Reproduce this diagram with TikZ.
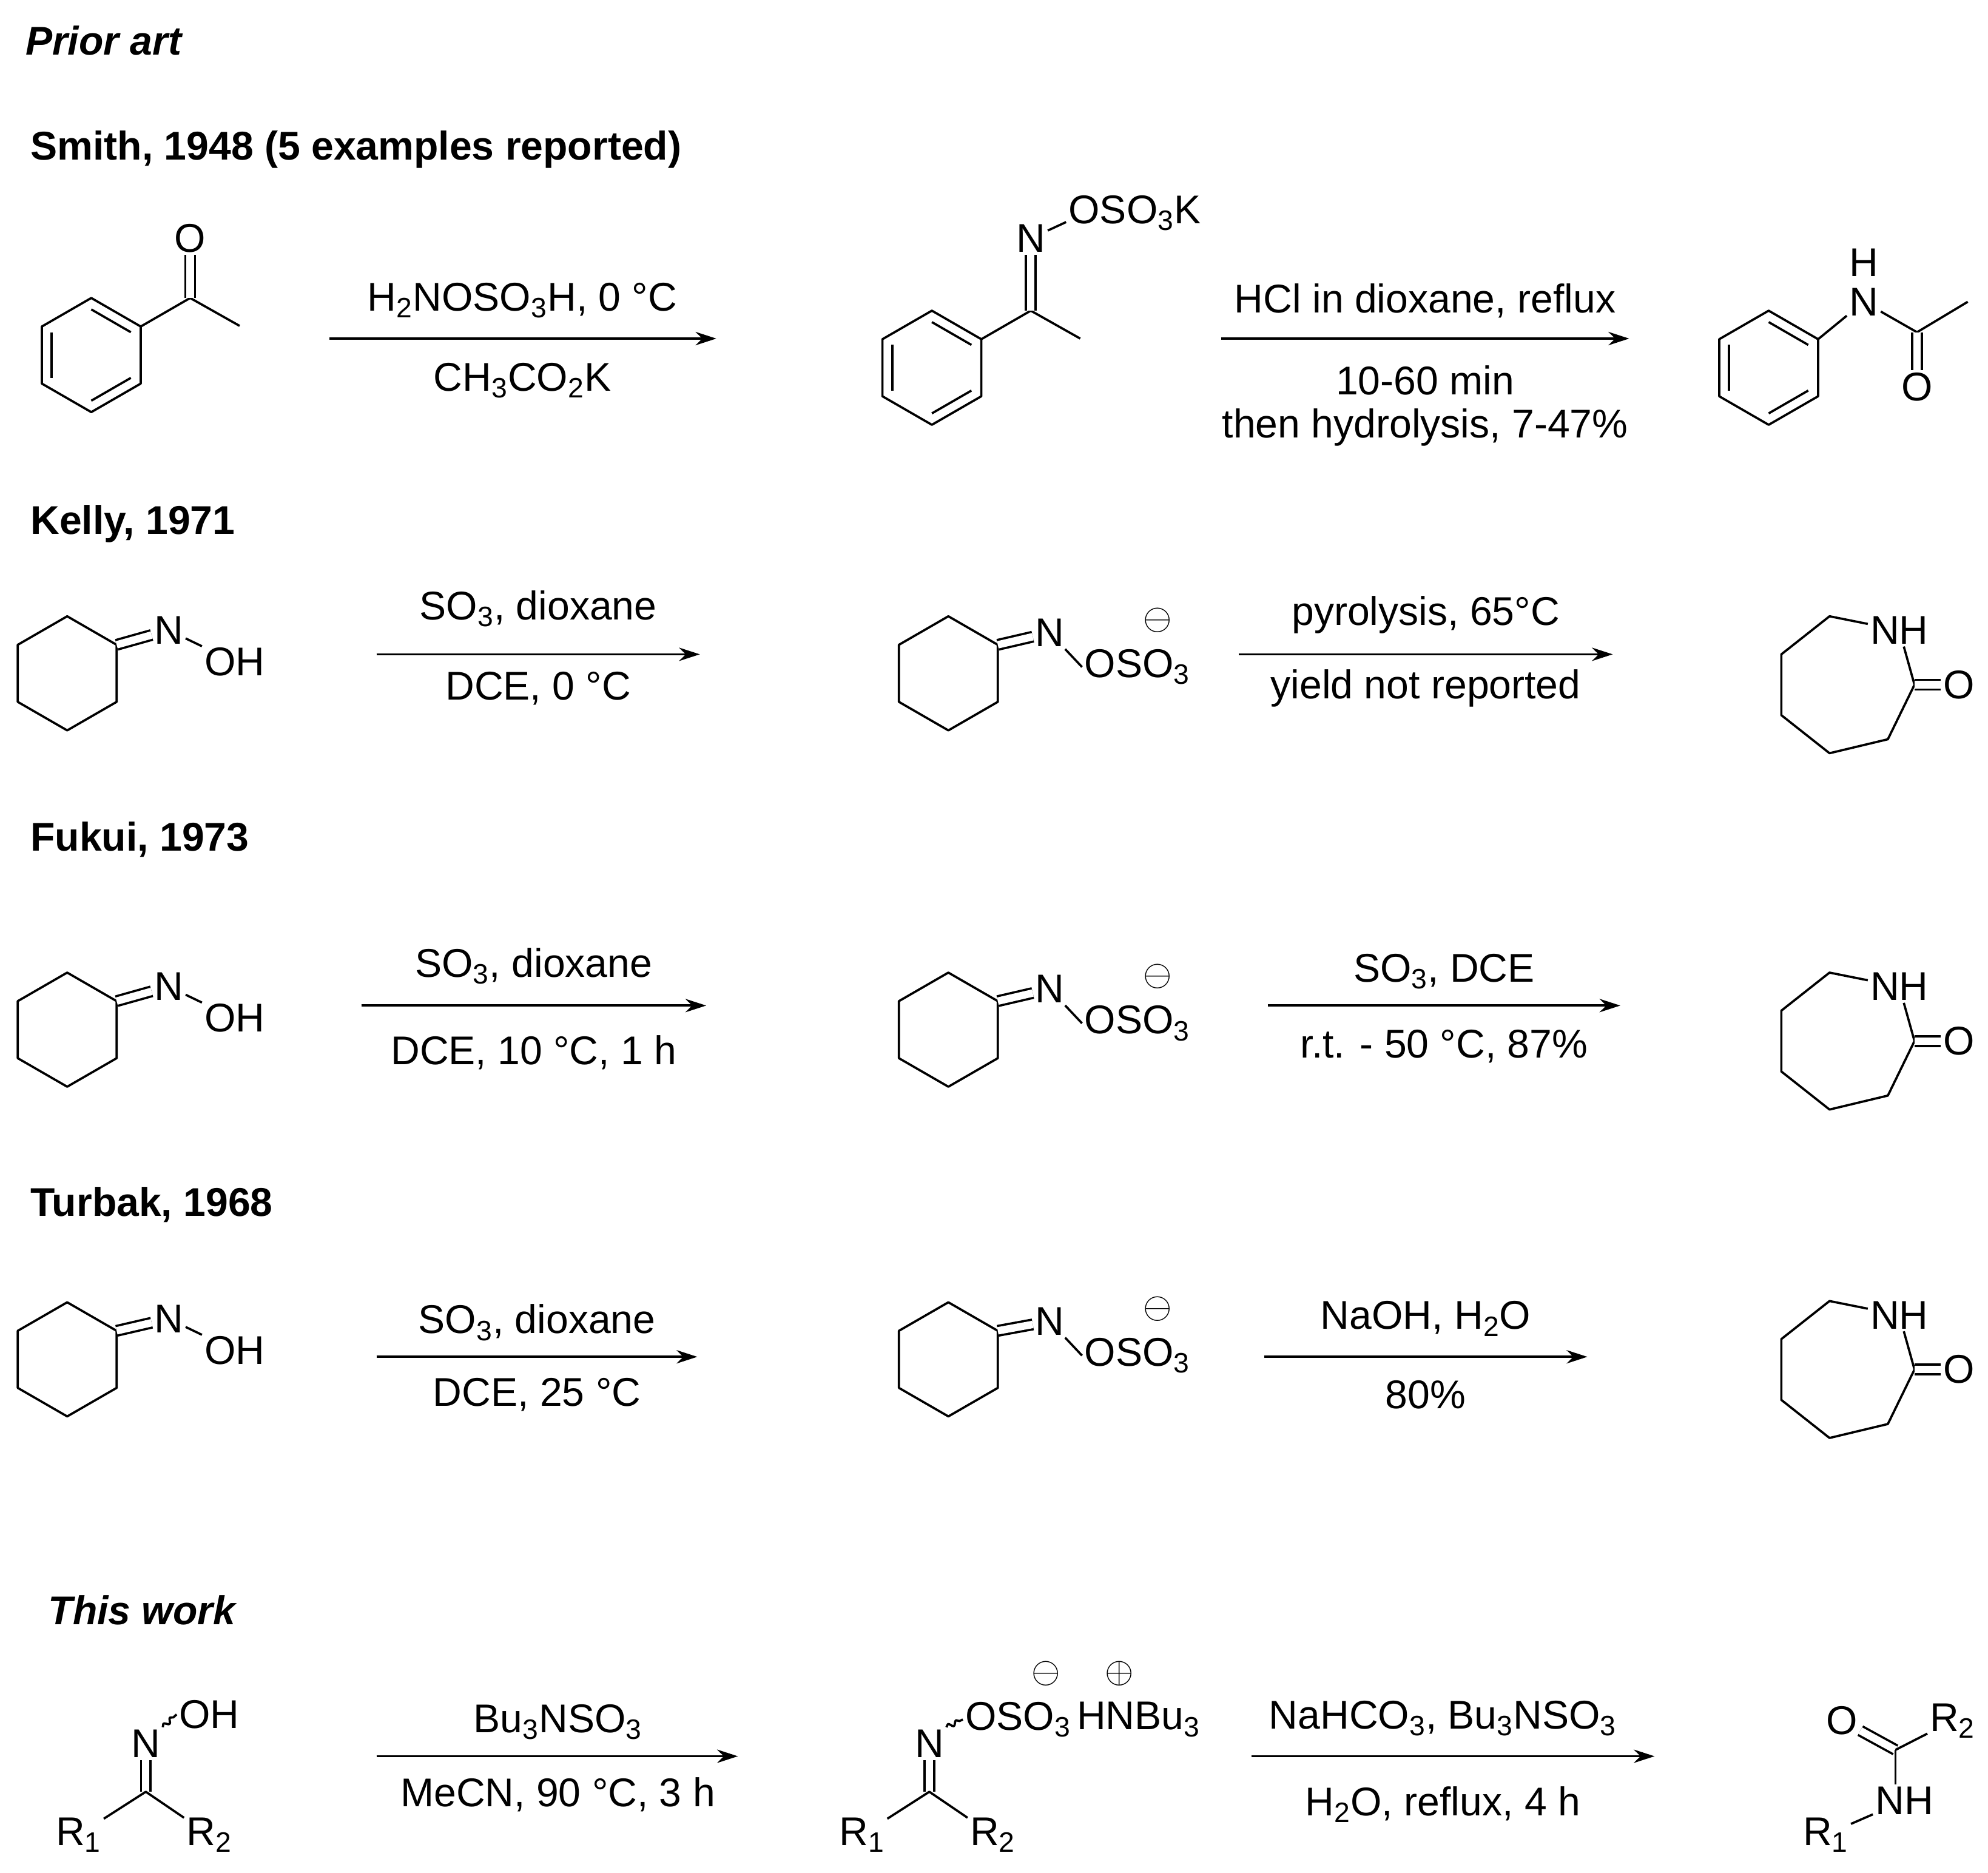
\documentclass[tikz,border=0pt]{standalone}
\usepackage{fontspec}
\setmainfont{Liberation Sans}
\usetikzlibrary{arrows.meta,decorations.pathmorphing,calc}
\newcommand\hexa[3]{%
\coordinate (#1t) at (#2,#3-45);
\coordinate (#1ur) at (#2+39,#3-22.5);
\coordinate (#1lr) at (#2+39,#3+22.5);
\coordinate (#1b) at (#2,#3+45);
\coordinate (#1ll) at (#2-39,#3+22.5);
\coordinate (#1ul) at (#2-39,#3-22.5);
\coordinate (#1c) at (#2,#3);
\draw[bond] (#1t)--(#1ur)--(#1lr)--(#1b)--(#1ll)--(#1ul)--cycle;}
\newcommand\inner[3]{\draw[bond] ($(#1)!0.2!(#3)$)--($(#2)!0.2!(#3)$);}
\newcommand\benz[3]{\hexa{#1}{#2}{#3}\inner{#1t}{#1ur}{#1c}\inner{#1lr}{#1b}{#1c}\inner{#1ll}{#1ul}{#1c}}
\newcommand\hepta[3]{%
\coordinate (#1a) at (#2+55,#3);
\coordinate (#1b) at (#2+34,#3-43);
\coordinate (#1c) at (#2-12,#3-54);
\coordinate (#1d) at (#2-50,#3-24);
\coordinate (#1e) at (#2-50,#3+24);
\coordinate (#1f) at (#2-12,#3+54);
\coordinate (#1g) at (#2+34,#3+43);
\node[atom] (#1N) at (#2+43,#3-43) {NH};
\node[atom] (#1O) at (#2+90,#3) {O};
\draw[bond] (#1N)--(#1c)--(#1d)--(#1e)--(#1f)--(#1g)--(#1a)--(#1N);
\draw[dbond] (#1a)--(#1O);}
\begin{document}
\begin{tikzpicture}[x=0.03cm,y=-0.03cm,
  every node/.style={font=\fontsize{27}{32}\selectfont},
  bond/.style={line width=1.5pt,line join=round},
  dbond/.style={line width=1.5pt,double,double distance=5pt},
  atom/.style={inner sep=1.5pt},
  rxn/.style={line width=1.5pt,-{Stealth[length=14pt,width=9pt]}},
  head/.style={anchor=west,font=\fontsize{27}{32}\selectfont\bfseries}]
\useasboundingbox (0,0) rectangle (1568,1477);
\node[head,font=\fontsize{27}{32}\selectfont\bfseries\itshape] (h0) at (16,32) {Prior art};
\node[head] (h1) at (20,118) {Smith, 1948 (5 examples reported)};
\node[head] (h2) at (20,413) {Kelly, 1971};
\node[head] (h3) at (20,662) {Fukui, 1973};
\node[head] (h4) at (20,950) {Turbak, 1968};
\node[head,font=\fontsize{27}{32}\selectfont\bfseries\itshape] (h5) at (34,1270) {This work};
% row 1
\benz{A}{72}{280}
\coordinate (AC) at (150,235); \coordinate (AM) at (189,257);
\node[atom] (AO) at (150,188) {O};
\draw[bond] (Aur)--(AC)--(AM); \draw[dbond] (AC)--(AO);
\coordinate (r1a) at (260,267); \coordinate (r1b) at (565,267);
\draw[rxn] (r1a)--(r1b);
\node (t1a) at (412,237) {H\textsubscript{2}NOSO\textsubscript{3}H, 0 °C};
\node (t1b) at (412,300) {CH\textsubscript{3}CO\textsubscript{2}K};
\benz{B}{735}{290}
\coordinate (BC) at (813,245); \coordinate (BM) at (852,267);
\node[atom] (BN) at (813,188) {N};
\node[atom] (BO) at (895,168) {OSO\textsubscript{3}K};
\draw[bond] (Bur)--(BC)--(BM); \draw[dbond] (BC)--(BN);
\draw[bond] (BN)--(BO.west|-BN.north);
\coordinate (r2a) at (963,267); \coordinate (r2b) at (1285,267);
\draw[rxn] (r2a)--(r2b);
\node (t2a) at (1124,237) {HCl in dioxane, reflux};
\node (t2b) at (1124,300) {10-60 min};
\node (t2c) at (1124,337) {then hydrolysis, 7-47\%};
\benz{C}{1395}{290}
\node[atom] (CN) at (1470,238) {N};
\node[atom] (CH) at (1470,207) {H};
\coordinate (CC) at (1512,262); \coordinate (CM) at (1552,238);
\node[atom] (CO) at (1512,305) {O};
\draw[bond] (Cur)--(CN)--(CC)--(CM); \draw[dbond] (CC)--(CO);
% Kelly, Fukui, Turbak rows
\foreach \r/\y/\ny/\la/\lb/\xa/\xb/\lc/\ld/\xc/\xd/\ly/\ry/\ya/\yb/\yc/\yd in {
 K/531/497/{SO\textsubscript{3}, dioxane}/{DCE, 0 °C}/297/552/{pyrolysis, 65°C}/{yield not reported}/977/1272/540/516/480/543/485/543,
 F/812/778/{SO\textsubscript{3}, dioxane}/{DCE, 10 °C, 1 h}/285/557/{SO\textsubscript{3}, DCE}/{r.t. - 50 °C, 87\%}/1000/1278/821/793/762/830/766/825,
 T/1072/1040/{SO\textsubscript{3}, dioxane}/{DCE, 25 °C}/297/550/{NaOH, H\textsubscript{2}O}/{80\%}/997/1252/1080/1070/1043/1100/1040/1100}{
 \hexa{\r x}{53}{\y}
 \node[atom] (\r N1) at (133,\ny) {N};
 \node[atom] (\r OH) at (185,\ny+25) {OH};
 \draw[dbond] (\r xur)--(\r N1); \draw[bond] (\r N1)--(\r OH);
 \coordinate (\r a1) at (\xa,\ry); \coordinate (\r b1) at (\xb,\ry);
 \draw[rxn] (\r a1)--(\r b1);
 \node (\r t1) at ({(\xa+\xb)/2},\ya) {\la};
 \node (\r t2) at ({(\xa+\xb)/2},\yb) {\lb};
 \hexa{\r y}{748}{\y}
 \node[atom] (\r N2) at (828,\ny+2) {N};
 \node[atom] (\r OS) at (897,\ny+29) {OSO\textsubscript{3}};
 \node[atom] (\r m) at (913,\ny-8) {$\ominus$};
 \draw[dbond] (\r yur)--(\r N2); \draw[bond] (\r N2)--(\r OS.west);
 \coordinate (\r a2) at (\xc,\ry); \coordinate (\r b2) at (\xd,\ry);
 \draw[rxn] (\r a2)--(\r b2);
 \node (\r t3) at ({(\xc+\xd)/2},\yc) {\lc};
 \node (\r t4) at ({(\xc+\xd)/2},\yd) {\ld};
 \hepta{\r z}{1455}{\ly}
}
% This work
\coordinate (WC) at (115,1413);
\node[atom] (WN) at (115,1375) {N};
\node[atom] (WOH) at (165,1352) {OH};
\node[atom] (WR1) at (62,1447) {R\textsubscript{1}};
\node[atom] (WR2) at (165,1447) {R\textsubscript{2}};
\draw[dbond] (WC)--(WN); \draw[bond] (WR1)--(WC)--(WR2);
\draw[bond,decorate,decoration={snake,amplitude=1.5pt,segment length=6pt}] (WN.north east)--(WOH.west);
\coordinate (w1a) at (297,1385); \coordinate (w1b) at (582,1385);
\draw[rxn] (w1a)--(w1b);
\node (w1t) at (440,1358) {Bu\textsubscript{3}NSO\textsubscript{3}};
\node (w1u) at (440,1415) {MeCN, 90 °C, 3 h};
\coordinate (VC) at (733,1413);
\node[atom] (VN) at (733,1375) {N};
\node[atom] (VO) at (803,1356) {OSO\textsubscript{3}};
\node[atom] (VH) at (898,1356) {HNBu\textsubscript{3}};
\node[atom] (Vm) at (825,1320) {$\ominus$};
\node[atom] (Vp) at (883,1320) {$\oplus$};
\node[atom] (VR1) at (680,1447) {R\textsubscript{1}};
\node[atom] (VR2) at (783,1447) {R\textsubscript{2}};
\draw[dbond] (VC)--(VN); \draw[bond] (VR1)--(VC)--(VR2);
\draw[bond,decorate,decoration={snake,amplitude=1.5pt,segment length=6pt}] (VN.north east)--(VO.west);
\coordinate (w2a) at (987,1385); \coordinate (w2b) at (1305,1385);
\draw[rxn] (w2a)--(w2b);
\node (w2t) at (1138,1355) {NaHCO\textsubscript{3}, Bu\textsubscript{3}NSO\textsubscript{3}};
\node (w2u) at (1138,1423) {H\textsubscript{2}O, reflux, 4 h};
\coordinate (PC) at (1495,1380);
\node[atom] (PO) at (1453,1357) {O};
\node[atom] (PR2) at (1540,1357) {R\textsubscript{2}};
\node[atom] (PN) at (1502,1420) {NH};
\node[atom] (PR1) at (1440,1447) {R\textsubscript{1}};
\draw[dbond] (PO)--(PC); \draw[bond] (PC)--(PR2); \draw[bond] (PC)--(PN.north-|PC);
\draw[bond] (PN)--(PR1);
\end{tikzpicture}
\end{document}
